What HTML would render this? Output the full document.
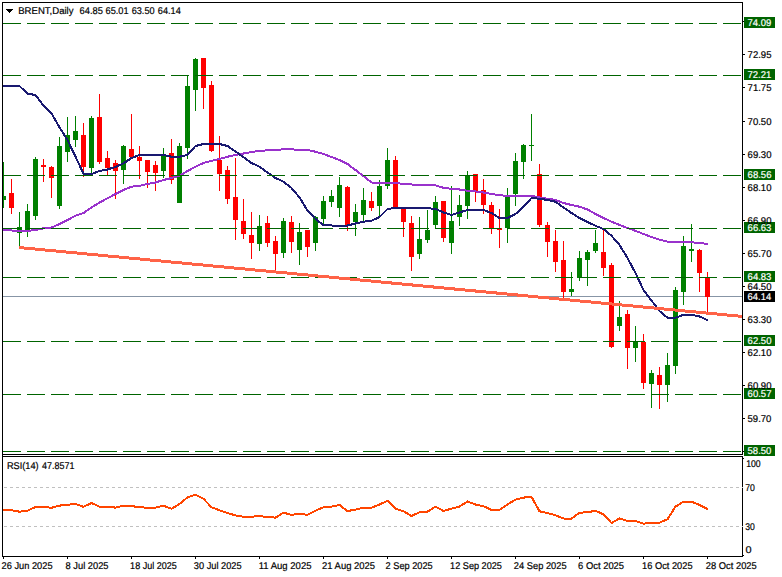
<!DOCTYPE html>
<html><head><meta charset="utf-8"><title>BRENT Daily</title>
<style>html,body{margin:0;padding:0;background:#fff;}svg{display:block;}text{font-family:"Liberation Sans",sans-serif;font-size:9.8px;text-rendering:geometricPrecision;stroke-width:0.2px;paint-order:stroke;}</style></head><body>
<svg width="782" height="577" viewBox="0 0 782 577">
<rect x="0" y="0" width="782" height="577" fill="#ffffff"/>
<defs><clipPath id="cm"><rect x="3" y="3" width="739" height="451"/></clipPath><clipPath id="cr"><rect x="3" y="457" width="739" height="99"/></clipPath></defs>
<g shape-rendering="crispEdges">
<rect x="3" y="296" width="739" height="1" fill="#8795a6"/>
<g clip-path="url(#cm)">
<rect x="3" y="162" width="1" height="46" fill="#008000"/><rect x="1" y="196" width="5" height="4" fill="#008000"/>
<rect x="11" y="179" width="1" height="35" fill="#ff0000"/><rect x="9" y="193" width="5" height="15" fill="#ff0000"/>
<rect x="19" y="212" width="1" height="34" fill="#008000"/><rect x="17" y="227" width="5" height="6" fill="#008000"/>
<rect x="27" y="204" width="1" height="33" fill="#008000"/><rect x="25" y="211" width="5" height="20" fill="#008000"/>
<rect x="35" y="157" width="1" height="63" fill="#008000"/><rect x="33" y="159" width="5" height="57" fill="#008000"/>
<rect x="43" y="159" width="1" height="23" fill="#ff0000"/><rect x="41" y="165" width="5" height="2" fill="#ff0000"/>
<rect x="51" y="166" width="1" height="32" fill="#ff0000"/><rect x="49" y="167" width="5" height="11" fill="#ff0000"/>
<rect x="59" y="137" width="1" height="72" fill="#008000"/><rect x="57" y="146" width="5" height="60" fill="#008000"/>
<rect x="67" y="117" width="1" height="45" fill="#008000"/><rect x="65" y="135" width="5" height="17" fill="#008000"/>
<rect x="75" y="116" width="1" height="31" fill="#008000"/><rect x="73" y="131" width="5" height="9" fill="#008000"/>
<rect x="83" y="123" width="1" height="54" fill="#ff0000"/><rect x="81" y="135" width="5" height="32" fill="#ff0000"/>
<rect x="91" y="116" width="1" height="59" fill="#008000"/><rect x="89" y="118" width="5" height="50" fill="#008000"/>
<rect x="99" y="94" width="1" height="70" fill="#ff0000"/><rect x="97" y="117" width="5" height="45" fill="#ff0000"/>
<rect x="107" y="151" width="1" height="25" fill="#ff0000"/><rect x="105" y="158" width="5" height="10" fill="#ff0000"/>
<rect x="115" y="160" width="1" height="39" fill="#ff0000"/><rect x="113" y="163" width="5" height="8" fill="#ff0000"/>
<rect x="123" y="145" width="1" height="39" fill="#008000"/><rect x="121" y="146" width="5" height="24" fill="#008000"/>
<rect x="131" y="114" width="1" height="44" fill="#ff0000"/><rect x="129" y="149" width="5" height="8" fill="#ff0000"/>
<rect x="139" y="146" width="1" height="33" fill="#ff0000"/><rect x="137" y="157" width="5" height="4" fill="#ff0000"/>
<rect x="147" y="160" width="1" height="28" fill="#ff0000"/><rect x="145" y="160" width="5" height="12" fill="#ff0000"/>
<rect x="155" y="161" width="1" height="30" fill="#ff0000"/><rect x="153" y="165" width="5" height="8" fill="#ff0000"/>
<rect x="163" y="148" width="1" height="30" fill="#008000"/><rect x="161" y="155" width="5" height="16" fill="#008000"/>
<rect x="171" y="139" width="1" height="45" fill="#ff0000"/><rect x="169" y="153" width="5" height="27" fill="#ff0000"/>
<rect x="179" y="143" width="1" height="60" fill="#008000"/><rect x="177" y="146" width="5" height="57" fill="#008000"/>
<rect x="187" y="75" width="1" height="84" fill="#008000"/><rect x="185" y="86" width="5" height="62" fill="#008000"/>
<rect x="195" y="58" width="1" height="53" fill="#008000"/><rect x="193" y="59" width="5" height="31" fill="#008000"/>
<rect x="203" y="58" width="1" height="51" fill="#ff0000"/><rect x="201" y="58" width="5" height="30" fill="#ff0000"/>
<rect x="211" y="81" width="1" height="71" fill="#ff0000"/><rect x="209" y="85" width="5" height="66" fill="#ff0000"/>
<rect x="219" y="136" width="1" height="55" fill="#ff0000"/><rect x="217" y="160" width="5" height="14" fill="#ff0000"/>
<rect x="227" y="166" width="1" height="38" fill="#ff0000"/><rect x="225" y="170" width="5" height="29" fill="#ff0000"/>
<rect x="235" y="158" width="1" height="82" fill="#ff0000"/><rect x="233" y="197" width="5" height="23" fill="#ff0000"/>
<rect x="243" y="199" width="1" height="40" fill="#ff0000"/><rect x="241" y="221" width="5" height="13" fill="#ff0000"/>
<rect x="251" y="212" width="1" height="47" fill="#ff0000"/><rect x="249" y="235" width="5" height="8" fill="#ff0000"/>
<rect x="259" y="215" width="1" height="36" fill="#008000"/><rect x="257" y="226" width="5" height="18" fill="#008000"/>
<rect x="267" y="216" width="1" height="31" fill="#ff0000"/><rect x="265" y="223" width="5" height="20" fill="#ff0000"/>
<rect x="275" y="236" width="1" height="35" fill="#ff0000"/><rect x="273" y="241" width="5" height="13" fill="#ff0000"/>
<rect x="283" y="218" width="1" height="40" fill="#008000"/><rect x="281" y="221" width="5" height="32" fill="#008000"/>
<rect x="291" y="216" width="1" height="37" fill="#ff0000"/><rect x="289" y="222" width="5" height="20" fill="#ff0000"/>
<rect x="299" y="223" width="1" height="42" fill="#008000"/><rect x="297" y="232" width="5" height="18" fill="#008000"/>
<rect x="307" y="230" width="1" height="27" fill="#ff0000"/><rect x="305" y="230" width="5" height="17" fill="#ff0000"/>
<rect x="315" y="216" width="1" height="35" fill="#008000"/><rect x="313" y="217" width="5" height="26" fill="#008000"/>
<rect x="323" y="196" width="1" height="29" fill="#008000"/><rect x="321" y="201" width="5" height="18" fill="#008000"/>
<rect x="331" y="190" width="1" height="17" fill="#008000"/><rect x="329" y="196" width="5" height="6" fill="#008000"/>
<rect x="339" y="177" width="1" height="40" fill="#008000"/><rect x="337" y="185" width="5" height="23" fill="#008000"/>
<rect x="347" y="186" width="1" height="45" fill="#ff0000"/><rect x="345" y="187" width="5" height="38" fill="#ff0000"/>
<rect x="355" y="204" width="1" height="32" fill="#008000"/><rect x="353" y="212" width="5" height="10" fill="#008000"/>
<rect x="363" y="188" width="1" height="33" fill="#008000"/><rect x="361" y="200" width="5" height="15" fill="#008000"/>
<rect x="371" y="192" width="1" height="19" fill="#ff0000"/><rect x="369" y="201" width="5" height="7" fill="#ff0000"/>
<rect x="379" y="180" width="1" height="36" fill="#008000"/><rect x="377" y="186" width="5" height="20" fill="#008000"/>
<rect x="387" y="148" width="1" height="41" fill="#008000"/><rect x="385" y="160" width="5" height="26" fill="#008000"/>
<rect x="395" y="156" width="1" height="52" fill="#ff0000"/><rect x="393" y="160" width="5" height="48" fill="#ff0000"/>
<rect x="403" y="208" width="1" height="29" fill="#ff0000"/><rect x="401" y="208" width="5" height="14" fill="#ff0000"/>
<rect x="411" y="216" width="1" height="55" fill="#ff0000"/><rect x="409" y="223" width="5" height="34" fill="#ff0000"/>
<rect x="419" y="217" width="1" height="42" fill="#008000"/><rect x="417" y="239" width="5" height="15" fill="#008000"/>
<rect x="427" y="210" width="1" height="33" fill="#008000"/><rect x="425" y="230" width="5" height="10" fill="#008000"/>
<rect x="435" y="196" width="1" height="33" fill="#008000"/><rect x="433" y="202" width="5" height="23" fill="#008000"/>
<rect x="443" y="201" width="1" height="41" fill="#ff0000"/><rect x="441" y="201" width="5" height="37" fill="#ff0000"/>
<rect x="451" y="186" width="1" height="68" fill="#008000"/><rect x="449" y="221" width="5" height="22" fill="#008000"/>
<rect x="459" y="195" width="1" height="31" fill="#008000"/><rect x="457" y="205" width="5" height="12" fill="#008000"/>
<rect x="467" y="171" width="1" height="48" fill="#008000"/><rect x="465" y="175" width="5" height="31" fill="#008000"/>
<rect x="475" y="174" width="1" height="28" fill="#ff0000"/><rect x="473" y="174" width="5" height="18" fill="#ff0000"/>
<rect x="483" y="179" width="1" height="35" fill="#ff0000"/><rect x="481" y="190" width="5" height="15" fill="#ff0000"/>
<rect x="491" y="202" width="1" height="32" fill="#ff0000"/><rect x="489" y="205" width="5" height="23" fill="#ff0000"/>
<rect x="499" y="209" width="1" height="39" fill="#ff0000"/><rect x="497" y="228" width="5" height="2" fill="#ff0000"/>
<rect x="507" y="188" width="1" height="55" fill="#008000"/><rect x="505" y="197" width="5" height="31" fill="#008000"/>
<rect x="515" y="153" width="1" height="53" fill="#008000"/><rect x="513" y="161" width="5" height="33" fill="#008000"/>
<rect x="523" y="144" width="1" height="35" fill="#008000"/><rect x="521" y="145" width="5" height="17" fill="#008000"/>
<rect x="531" y="114" width="1" height="47" fill="#008000"/><rect x="529" y="145" width="5" height="1" fill="#008000"/>
<rect x="539" y="164" width="1" height="63" fill="#ff0000"/><rect x="537" y="174" width="5" height="51" fill="#ff0000"/>
<rect x="547" y="222" width="1" height="35" fill="#ff0000"/><rect x="545" y="225" width="5" height="17" fill="#ff0000"/>
<rect x="555" y="230" width="1" height="42" fill="#ff0000"/><rect x="553" y="241" width="5" height="21" fill="#ff0000"/>
<rect x="563" y="241" width="1" height="57" fill="#ff0000"/><rect x="561" y="260" width="5" height="32" fill="#ff0000"/>
<rect x="571" y="272" width="1" height="24" fill="#008000"/><rect x="569" y="289" width="5" height="3" fill="#008000"/>
<rect x="579" y="251" width="1" height="30" fill="#008000"/><rect x="577" y="258" width="5" height="20" fill="#008000"/>
<rect x="587" y="250" width="1" height="36" fill="#008000"/><rect x="585" y="252" width="5" height="8" fill="#008000"/>
<rect x="595" y="230" width="1" height="23" fill="#008000"/><rect x="593" y="243" width="5" height="8" fill="#008000"/>
<rect x="603" y="229" width="1" height="47" fill="#ff0000"/><rect x="601" y="252" width="5" height="16" fill="#ff0000"/>
<rect x="611" y="263" width="1" height="85" fill="#ff0000"/><rect x="609" y="265" width="5" height="82" fill="#ff0000"/>
<rect x="619" y="301" width="1" height="30" fill="#008000"/><rect x="617" y="317" width="5" height="9" fill="#008000"/>
<rect x="627" y="310" width="1" height="59" fill="#ff0000"/><rect x="625" y="314" width="5" height="34" fill="#ff0000"/>
<rect x="635" y="326" width="1" height="36" fill="#008000"/><rect x="633" y="341" width="5" height="7" fill="#008000"/>
<rect x="643" y="334" width="1" height="55" fill="#ff0000"/><rect x="641" y="342" width="5" height="41" fill="#ff0000"/>
<rect x="651" y="370" width="1" height="38" fill="#008000"/><rect x="649" y="373" width="5" height="11" fill="#008000"/>
<rect x="659" y="367" width="1" height="42" fill="#ff0000"/><rect x="657" y="375" width="5" height="10" fill="#ff0000"/>
<rect x="667" y="353" width="1" height="49" fill="#008000"/><rect x="665" y="365" width="5" height="20" fill="#008000"/>
<rect x="675" y="287" width="1" height="87" fill="#008000"/><rect x="673" y="290" width="5" height="76" fill="#008000"/>
<rect x="683" y="236" width="1" height="69" fill="#008000"/><rect x="681" y="246" width="5" height="46" fill="#008000"/>
<rect x="691" y="224" width="1" height="38" fill="#008000"/><rect x="689" y="249" width="5" height="2" fill="#008000"/>
<rect x="699" y="249" width="1" height="43" fill="#ff0000"/><rect x="697" y="250" width="5" height="23" fill="#ff0000"/>
<rect x="707" y="272" width="1" height="41" fill="#ff0000"/><rect x="705" y="277" width="5" height="20" fill="#ff0000"/>
</g>
<g clip-path="url(#cm)">
<polyline points="3,230.0 3.5,230.0 11.5,230.5 19.5,231.3 27.5,231.0 35.5,230.0 43.5,228.3 51.5,227.5 59.5,224.0 67.5,220.0 75.5,215.8 83.5,213.0 91.5,207.5 99.5,202.5 107.5,198.3 115.5,194.0 123.5,190.0 131.5,186.7 139.5,185.8 147.5,184.0 155.5,182.5 163.5,180.0 171.5,178.0 179.5,175.8 187.5,171.0 195.5,166.7 203.5,163.0 211.5,160.8 219.5,159.0 227.5,156.7 235.5,155.0 243.5,153.5 251.5,152.0 259.5,151.0 267.5,150.3 275.5,150.0 283.5,149.3 291.5,149.3 299.5,150.0 307.5,150.0 315.5,151.7 323.5,154.0 331.5,157.0 339.5,160.0 347.5,164.0 355.5,170.0 363.5,176.0 371.5,182.5 379.5,183.0 387.5,183.0 395.5,183.0 403.5,184.0 411.5,184.5 419.5,184.5 427.5,185.0 435.5,185.3 443.5,187.8 451.5,188.8 459.5,189.5 467.5,190.8 475.5,191.5 483.5,192.5 491.5,194.0 499.5,195.3 507.5,195.8 515.5,195.8 523.5,195.8 531.5,195.8 539.5,197.5 547.5,198.7 555.5,200.0 563.5,203.0 571.5,205.0 579.5,206.7 587.5,209.5 595.5,214.0 603.5,218.0 611.5,221.7 619.5,225.0 627.5,228.0 635.5,230.8 643.5,234.0 651.5,237.0 659.5,239.7 667.5,241.7 675.5,242.2 683.5,242.2 691.5,242.2 699.5,243.3 707.5,243.7 708.0,243.7" fill="none" stroke="#9932cc" stroke-width="2" stroke-linejoin="round"/>
<polyline points="3,86.0 3.5,86.0 11.5,86.0 19.5,86.0 27.5,93.7 35.5,95.0 43.5,105.8 51.5,113.3 59.5,127.5 67.5,140.0 75.5,156.7 83.5,173.8 91.5,174.0 99.5,171.0 107.5,169.5 115.5,167.0 123.5,163.3 131.5,158.0 139.5,155.0 147.5,155.0 155.5,155.0 163.5,155.0 171.5,156.7 179.5,156.7 187.5,155.0 195.5,146.0 203.5,144.0 211.5,144.0 219.5,144.0 227.5,146.0 235.5,151.5 243.5,157.2 251.5,163.0 259.5,166.7 267.5,172.5 275.5,178.0 283.5,181.7 291.5,188.0 299.5,197.5 307.5,210.5 315.5,219.0 323.5,225.0 331.5,225.5 339.5,225.5 347.5,225.5 355.5,223.5 363.5,221.7 371.5,220.8 379.5,217.0 387.5,209.0 395.5,207.8 403.5,207.8 411.5,207.8 419.5,208.0 427.5,208.3 435.5,208.8 443.5,212.5 451.5,215.0 459.5,212.5 467.5,210.0 475.5,210.0 483.5,210.0 491.5,213.0 499.5,218.0 507.5,218.0 515.5,214.0 523.5,206.7 531.5,198.0 539.5,198.7 547.5,200.0 555.5,201.7 563.5,207.5 571.5,213.0 579.5,218.0 587.5,222.0 595.5,225.8 603.5,229.0 611.5,235.8 619.5,245.0 627.5,258.0 635.5,273.0 643.5,290.0 651.5,300.5 659.5,311.0 667.5,317.8 675.5,317.8 683.5,314.7 691.5,314.7 699.5,316.4 707.5,320.2 708.0,320.2" fill="none" stroke="#191970" stroke-width="2" stroke-linejoin="round"/>
</g>
<line x1="3" y1="23.5" x2="742" y2="23.5" stroke="#006400" stroke-width="1" stroke-dasharray="18 6"/>
<line x1="3" y1="75.5" x2="742" y2="75.5" stroke="#006400" stroke-width="1" stroke-dasharray="18 6"/>
<line x1="3" y1="175.5" x2="742" y2="175.5" stroke="#006400" stroke-width="1" stroke-dasharray="18 6"/>
<line x1="3" y1="228.5" x2="742" y2="228.5" stroke="#006400" stroke-width="1" stroke-dasharray="18 6"/>
<line x1="3" y1="277.5" x2="742" y2="277.5" stroke="#006400" stroke-width="1" stroke-dasharray="18 6"/>
<line x1="3" y1="341.5" x2="742" y2="341.5" stroke="#006400" stroke-width="1" stroke-dasharray="18 6"/>
<line x1="3" y1="394.5" x2="742" y2="394.5" stroke="#006400" stroke-width="1" stroke-dasharray="18 6"/>
<line x1="3" y1="451.5" x2="742" y2="451.5" stroke="#006400" stroke-width="1" stroke-dasharray="18 6"/>
<g clip-path="url(#cm)"><line x1="19" y1="247.5" x2="743" y2="316.5" stroke="#ff6347" stroke-width="3"/></g>
<line x1="4" y1="487.5" x2="742" y2="487.5" stroke="#c0c0c0" stroke-width="1" stroke-dasharray="3 3"/>
<line x1="4" y1="526.5" x2="742" y2="526.5" stroke="#c0c0c0" stroke-width="1" stroke-dasharray="3 3"/>
<g clip-path="url(#cr)">
<polyline points="3,510.3 3.5,510.3 11.5,510.3 19.5,511.7 27.5,510.7 35.5,507.0 43.5,506.8 51.5,507.8 59.5,505.6 67.5,504.8 75.5,504.0 83.5,506.8 91.5,503.0 99.5,506.6 107.5,506.8 115.5,507.6 123.5,505.8 131.5,506.0 139.5,507.4 147.5,507.6 155.5,507.6 163.5,505.8 171.5,508.8 179.5,504.0 187.5,497.4 195.5,494.7 203.5,498.8 211.5,507.2 219.5,510.3 227.5,513.0 235.5,515.4 243.5,516.8 251.5,516.8 259.5,516.0 267.5,517.2 275.5,517.6 283.5,512.7 291.5,514.8 299.5,514.0 307.5,514.8 315.5,510.7 323.5,507.2 331.5,506.6 339.5,505.0 347.5,511.0 355.5,509.7 363.5,507.6 371.5,507.6 379.5,504.5 387.5,500.9 395.5,508.6 403.5,511.3 411.5,516.0 419.5,512.3 427.5,511.7 435.5,506.6 443.5,511.0 451.5,508.6 459.5,506.6 467.5,501.5 475.5,504.5 483.5,506.2 491.5,509.9 499.5,509.9 507.5,504.5 515.5,499.6 523.5,497.6 531.5,496.8 539.5,511.3 547.5,513.0 555.5,515.2 563.5,518.5 571.5,518.5 579.5,512.7 587.5,512.3 595.5,510.7 603.5,514.4 611.5,523.0 619.5,518.5 627.5,521.0 635.5,521.0 643.5,523.6 651.5,523.0 659.5,522.6 667.5,519.3 675.5,506.6 683.5,501.7 691.5,501.7 699.5,505.0 707.5,509.0 708.0,509.0" fill="none" stroke="#ff4500" stroke-width="2" stroke-linejoin="round"/>
</g>
<rect x="2" y="2" width="741" height="1" fill="#000"/>
<rect x="2" y="2" width="1" height="555" fill="#000"/>
<rect x="742" y="2" width="1" height="453" fill="#000"/>
<rect x="742" y="456" width="1" height="101" fill="#000"/>
<rect x="2" y="454" width="741" height="1" fill="#000"/>
<rect x="2" y="456" width="741" height="1" fill="#000"/>
<rect x="2" y="556" width="741" height="1" fill="#000"/><rect x="743" y="555" width="1" height="1" fill="#000"/>
<rect x="743" y="21" width="2" height="1" fill="#000"/>
<rect x="743" y="54" width="2" height="1" fill="#000"/>
<rect x="743" y="87" width="2" height="1" fill="#000"/>
<rect x="743" y="121" width="2" height="1" fill="#000"/>
<rect x="743" y="154" width="2" height="1" fill="#000"/>
<rect x="743" y="187" width="2" height="1" fill="#000"/>
<rect x="743" y="220" width="2" height="1" fill="#000"/>
<rect x="743" y="253" width="2" height="1" fill="#000"/>
<rect x="743" y="286" width="2" height="1" fill="#000"/>
<rect x="743" y="319" width="2" height="1" fill="#000"/>
<rect x="743" y="352" width="2" height="1" fill="#000"/>
<rect x="743" y="385" width="2" height="1" fill="#000"/>
<rect x="743" y="418" width="2" height="1" fill="#000"/>
<rect x="743" y="451" width="2" height="1" fill="#000"/>
<rect x="743" y="458" width="1" height="1" fill="#000"/>
<rect x="742" y="487" width="1" height="1" fill="#c0c0c0"/>
<rect x="742" y="526" width="1" height="1" fill="#c0c0c0"/>
<rect x="3" y="557" width="1" height="2" fill="#000"/>
<rect x="67" y="557" width="1" height="2" fill="#000"/>
<rect x="131" y="557" width="1" height="2" fill="#000"/>
<rect x="195" y="557" width="1" height="2" fill="#000"/>
<rect x="259" y="557" width="1" height="2" fill="#000"/>
<rect x="323" y="557" width="1" height="2" fill="#000"/>
<rect x="387" y="557" width="1" height="2" fill="#000"/>
<rect x="451" y="557" width="1" height="2" fill="#000"/>
<rect x="515" y="557" width="1" height="2" fill="#000"/>
<rect x="579" y="557" width="1" height="2" fill="#000"/>
<rect x="643" y="557" width="1" height="2" fill="#000"/>
<rect x="707" y="557" width="1" height="2" fill="#000"/>
<rect x="744" y="17" width="31" height="11" fill="#006400"/>
<rect x="744" y="69" width="31" height="11" fill="#006400"/>
<rect x="744" y="169" width="31" height="11" fill="#006400"/>
<rect x="744" y="222" width="31" height="11" fill="#006400"/>
<rect x="744" y="271" width="31" height="11" fill="#006400"/>
<rect x="744" y="335" width="31" height="11" fill="#006400"/>
<rect x="744" y="388" width="31" height="11" fill="#006400"/>
<rect x="744" y="445" width="31" height="11" fill="#006400"/>
<rect x="744" y="291" width="31" height="11" fill="#000"/>
<path d="M6 9h7l-3.5 4z" fill="#000" shape-rendering="crispEdges"/>
</g>
<text x="747.61" y="58" textLength="23.87" lengthAdjust="spacingAndGlyphs" fill="#000" stroke="#000">72.95</text>
<text x="747.61" y="91" textLength="23.87" lengthAdjust="spacingAndGlyphs" fill="#000" stroke="#000">71.75</text>
<text x="747.61" y="125" textLength="23.86" lengthAdjust="spacingAndGlyphs" fill="#000" stroke="#000">70.50</text>
<text x="747.58" y="158" textLength="23.88" lengthAdjust="spacingAndGlyphs" fill="#000" stroke="#000">69.30</text>
<text x="747.58" y="191" textLength="23.88" lengthAdjust="spacingAndGlyphs" fill="#000" stroke="#000">68.10</text>
<text x="747.58" y="224" textLength="23.88" lengthAdjust="spacingAndGlyphs" fill="#000" stroke="#000">66.90</text>
<text x="747.58" y="257" textLength="23.88" lengthAdjust="spacingAndGlyphs" fill="#000" stroke="#000">65.70</text>
<text x="747.58" y="290" textLength="23.88" lengthAdjust="spacingAndGlyphs" fill="#000" stroke="#000">64.50</text>
<text x="747.58" y="323" textLength="23.88" lengthAdjust="spacingAndGlyphs" fill="#000" stroke="#000">63.30</text>
<text x="747.58" y="356" textLength="23.88" lengthAdjust="spacingAndGlyphs" fill="#000" stroke="#000">62.10</text>
<text x="747.58" y="389" textLength="23.88" lengthAdjust="spacingAndGlyphs" fill="#000" stroke="#000">60.90</text>
<text x="747.56" y="422" textLength="23.87" lengthAdjust="spacingAndGlyphs" fill="#000" stroke="#000">59.70</text>
<text x="747.59" y="26" textLength="23.74" lengthAdjust="spacingAndGlyphs" fill="#fff" stroke="#fff">74.09</text>
<text x="747.42" y="78" textLength="23.88" lengthAdjust="spacingAndGlyphs" fill="#fff" stroke="#fff">72.21</text>
<text x="747.60" y="178" textLength="23.90" lengthAdjust="spacingAndGlyphs" fill="#fff" stroke="#fff">68.56</text>
<text x="747.60" y="231" textLength="23.84" lengthAdjust="spacingAndGlyphs" fill="#fff" stroke="#fff">66.63</text>
<text x="747.60" y="280" textLength="23.84" lengthAdjust="spacingAndGlyphs" fill="#fff" stroke="#fff">64.83</text>
<text x="747.58" y="344" textLength="23.88" lengthAdjust="spacingAndGlyphs" fill="#fff" stroke="#fff">62.50</text>
<text x="747.60" y="397" textLength="23.85" lengthAdjust="spacingAndGlyphs" fill="#fff" stroke="#fff">60.57</text>
<text x="747.56" y="454" textLength="23.87" lengthAdjust="spacingAndGlyphs" fill="#fff" stroke="#fff">58.50</text>
<text x="747.60" y="300" textLength="23.52" lengthAdjust="spacingAndGlyphs" fill="#fff" stroke="#fff">64.14</text>
<text x="746.15" y="467" textLength="14.48" lengthAdjust="spacingAndGlyphs" fill="#000" stroke="#000">100</text>
<text x="745.17" y="491" textLength="9.66" lengthAdjust="spacingAndGlyphs" fill="#000" stroke="#000">70</text>
<text x="745.14" y="530" textLength="9.59" lengthAdjust="spacingAndGlyphs" fill="#000" stroke="#000">30</text>
<text x="745.58" y="553" textLength="6.08" lengthAdjust="spacingAndGlyphs" fill="#000" stroke="#000">0</text>
<text x="18.22" y="14" textLength="55.31" lengthAdjust="spacingAndGlyphs" fill="#000" stroke="#000">BRENT,Daily</text>
<text x="79.58" y="14" textLength="23.29" lengthAdjust="spacingAndGlyphs" fill="#000" stroke="#000">64.85</text>
<text x="105.52" y="14" textLength="23.16" lengthAdjust="spacingAndGlyphs" fill="#000" stroke="#000">65.01</text>
<text x="131.70" y="14" textLength="22.90" lengthAdjust="spacingAndGlyphs" fill="#000" stroke="#000">63.50</text>
<text x="157.85" y="14" textLength="22.94" lengthAdjust="spacingAndGlyphs" fill="#000" stroke="#000">64.14</text>
<text x="6.95" y="469" textLength="31.70" lengthAdjust="spacingAndGlyphs" fill="#000" stroke="#000">RSI(14)</text>
<text x="42.04" y="469" textLength="32.35" lengthAdjust="spacingAndGlyphs" fill="#000" stroke="#000">47.8571</text>
<text x="1.60" y="569" textLength="50.97" lengthAdjust="spacingAndGlyphs" fill="#000" stroke="#000">26 Jun 2025</text>
<text x="65.54" y="569" textLength="43.02" lengthAdjust="spacingAndGlyphs" fill="#000" stroke="#000">8 Jul 2025</text>
<text x="130.12" y="569" textLength="46.74" lengthAdjust="spacingAndGlyphs" fill="#000" stroke="#000">18 Jul 2025</text>
<text x="193.80" y="569" textLength="47.76" lengthAdjust="spacingAndGlyphs" fill="#000" stroke="#000">30 Jul 2025</text>
<text x="258.67" y="569" textLength="52.84" lengthAdjust="spacingAndGlyphs" fill="#000" stroke="#000">11 Aug 2025</text>
<text x="322.01" y="569" textLength="53.04" lengthAdjust="spacingAndGlyphs" fill="#000" stroke="#000">21 Aug 2025</text>
<text x="385.60" y="569" textLength="47.15" lengthAdjust="spacingAndGlyphs" fill="#000" stroke="#000">2 Sep 2025</text>
<text x="450.08" y="569" textLength="51.89" lengthAdjust="spacingAndGlyphs" fill="#000" stroke="#000">12 Sep 2025</text>
<text x="513.85" y="569" textLength="52.72" lengthAdjust="spacingAndGlyphs" fill="#000" stroke="#000">24 Sep 2025</text>
<text x="578.11" y="569" textLength="45.96" lengthAdjust="spacingAndGlyphs" fill="#000" stroke="#000">6 Oct 2025</text>
<text x="642.04" y="569" textLength="50.54" lengthAdjust="spacingAndGlyphs" fill="#000" stroke="#000">16 Oct 2025</text>
<text x="705.84" y="569" textLength="50.94" lengthAdjust="spacingAndGlyphs" fill="#000" stroke="#000">28 Oct 2025</text>
</svg></body></html>
